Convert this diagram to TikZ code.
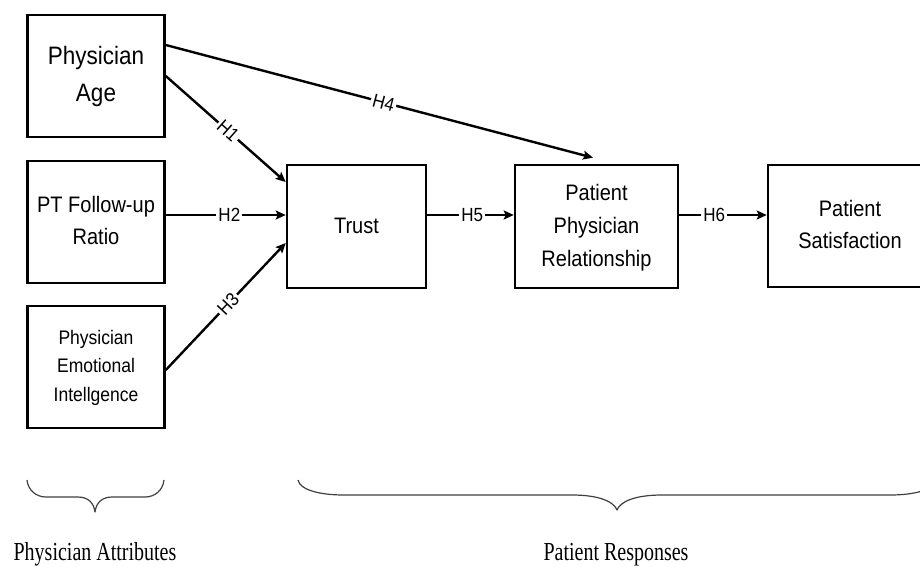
\documentclass[tikz,border=0pt]{standalone}
\usepackage{fontspec}
\setmainfont{Liberation Sans}
\newfontfamily\labelserif{Liberation Serif}
\usepackage{graphicx}
\usetikzlibrary{arrows.meta}

% Multi-line box caption, slightly stretched vertically
\newcommand\tallstack[4]{\scalebox{1}[#1]{\fontsize{#2}{#3}\selectfont\begin{tabular}{@{}c@{}}#4\end{tabular}}}
% Hypothesis tag on a connector
\newcommand\hyp[1]{\scalebox{1}[1.12]{\fontsize{17}{17}\selectfont #1}}

\begin{document}
\begin{tikzpicture}[x=1pt,y=-1pt,
  box/.style={draw, line width=2.6pt, minimum height=122pt, inner sep=0pt, fill=white},
  link/.style={line width=2.4pt, -{Stealth[length=10pt,width=9pt,inset=2pt]}},
  hlabel/.style={fill=white, inner sep=2pt, sloped},
  bracestyle/.style={line width=1.2pt, black!75, line join=round},
  grouplabel/.style={anchor=base, inner sep=0pt, font=\labelserif\fontsize{20}{24}\selectfont}]

\useasboundingbox (0,0) rectangle (920,566);
\fill[white] (0,0) rectangle (920,566);
\clip (0,0) rectangle (920,566);

% constructs
\node[box, minimum width=137pt] (age) at (96,76)
  {\tallstack{1.12}{22.5}{33}{Physician\\Age}};
\node[box, minimum width=137pt] (ratio) at (96,222)
  {\tallstack{1.12}{20}{28.5}{PT Follow-up\\Ratio}};
\node[box, minimum width=137pt] (pei) at (96,367)
  {\tallstack{1.12}{17.5}{25.5}{Physician\\Emotional\\Intellgence}};
\node[box, minimum width=139pt, minimum height=123pt] (trust) at (356.5,226.5)
  {\tallstack{1.12}{20}{29}{Trust}};
\node[box, minimum width=163pt, minimum height=123pt] (ppr) at (596.5,226.5)
  {\tallstack{1.12}{20}{29.5}{Patient\\Physician\\Relationship}};
\node[box, minimum width=164pt] (ps) at (850,226)
  {\tallstack{1.12}{20}{28.5}{Patient\\Satisfaction}};

% hypotheses
\draw[link] (age.east) -- ([yshift=44.5pt]trust.west)
  node[hlabel, pos=0.52] {\hyp{H1}};
\draw[link] ([yshift=7pt]ratio.east) -- ([yshift=7pt]ratio.east -| trust.west)
  node[hlabel, pos=0.53] {\hyp{H2}};
\draw[link] ([yshift=-3pt]pei.east) -- ([yshift=-16.5pt]trust.west)
  node[hlabel, pos=0.52] {\hyp{H3}};
\draw[link] ([yshift=31pt]age.east) -- ([shift={(-3.5pt,6pt)}]ppr.north)
  node[hlabel, pos=0.51] {\hyp{H4}};
\draw[link] ([yshift=11.5pt]trust.east) -- ([yshift=11.5pt]trust.east -| ppr.west)
  node[hlabel, pos=0.52] {\hyp{H5}};
\draw[link] ([yshift=11.5pt]ppr.east) -- ([yshift=11.5pt]ppr.east -| ps.west)
  node[hlabel, pos=0.4] {\hyp{H6}};

% grouping braces
\draw[bracestyle] (27,480) .. controls (28,490) and (36,497) .. (46,497) -- (78,497)
  .. controls (88,497) and (94,503) .. (95,512)
  .. controls (96,503) and (102,497) .. (112,497) -- (145,497)
  .. controls (155,497) and (163,490) .. (164,480);
\draw[bracestyle] (298,480) .. controls (300,490) and (320,495) .. (344,495) -- (572,495)
  .. controls (600,495) and (614,502) .. (617,510)
  .. controls (620,502) and (634,495) .. (662,495) -- (890,495)
  .. controls (914,495) and (934,490) .. (936,480);

\node[grouplabel] (attrs) at (95,560) {\scalebox{1}[1.3]{Physician Attributes}};
\node[grouplabel] (resp) at (616,560) {\scalebox{1}[1.3]{Patient Responses}};
\end{tikzpicture}
\end{document}
